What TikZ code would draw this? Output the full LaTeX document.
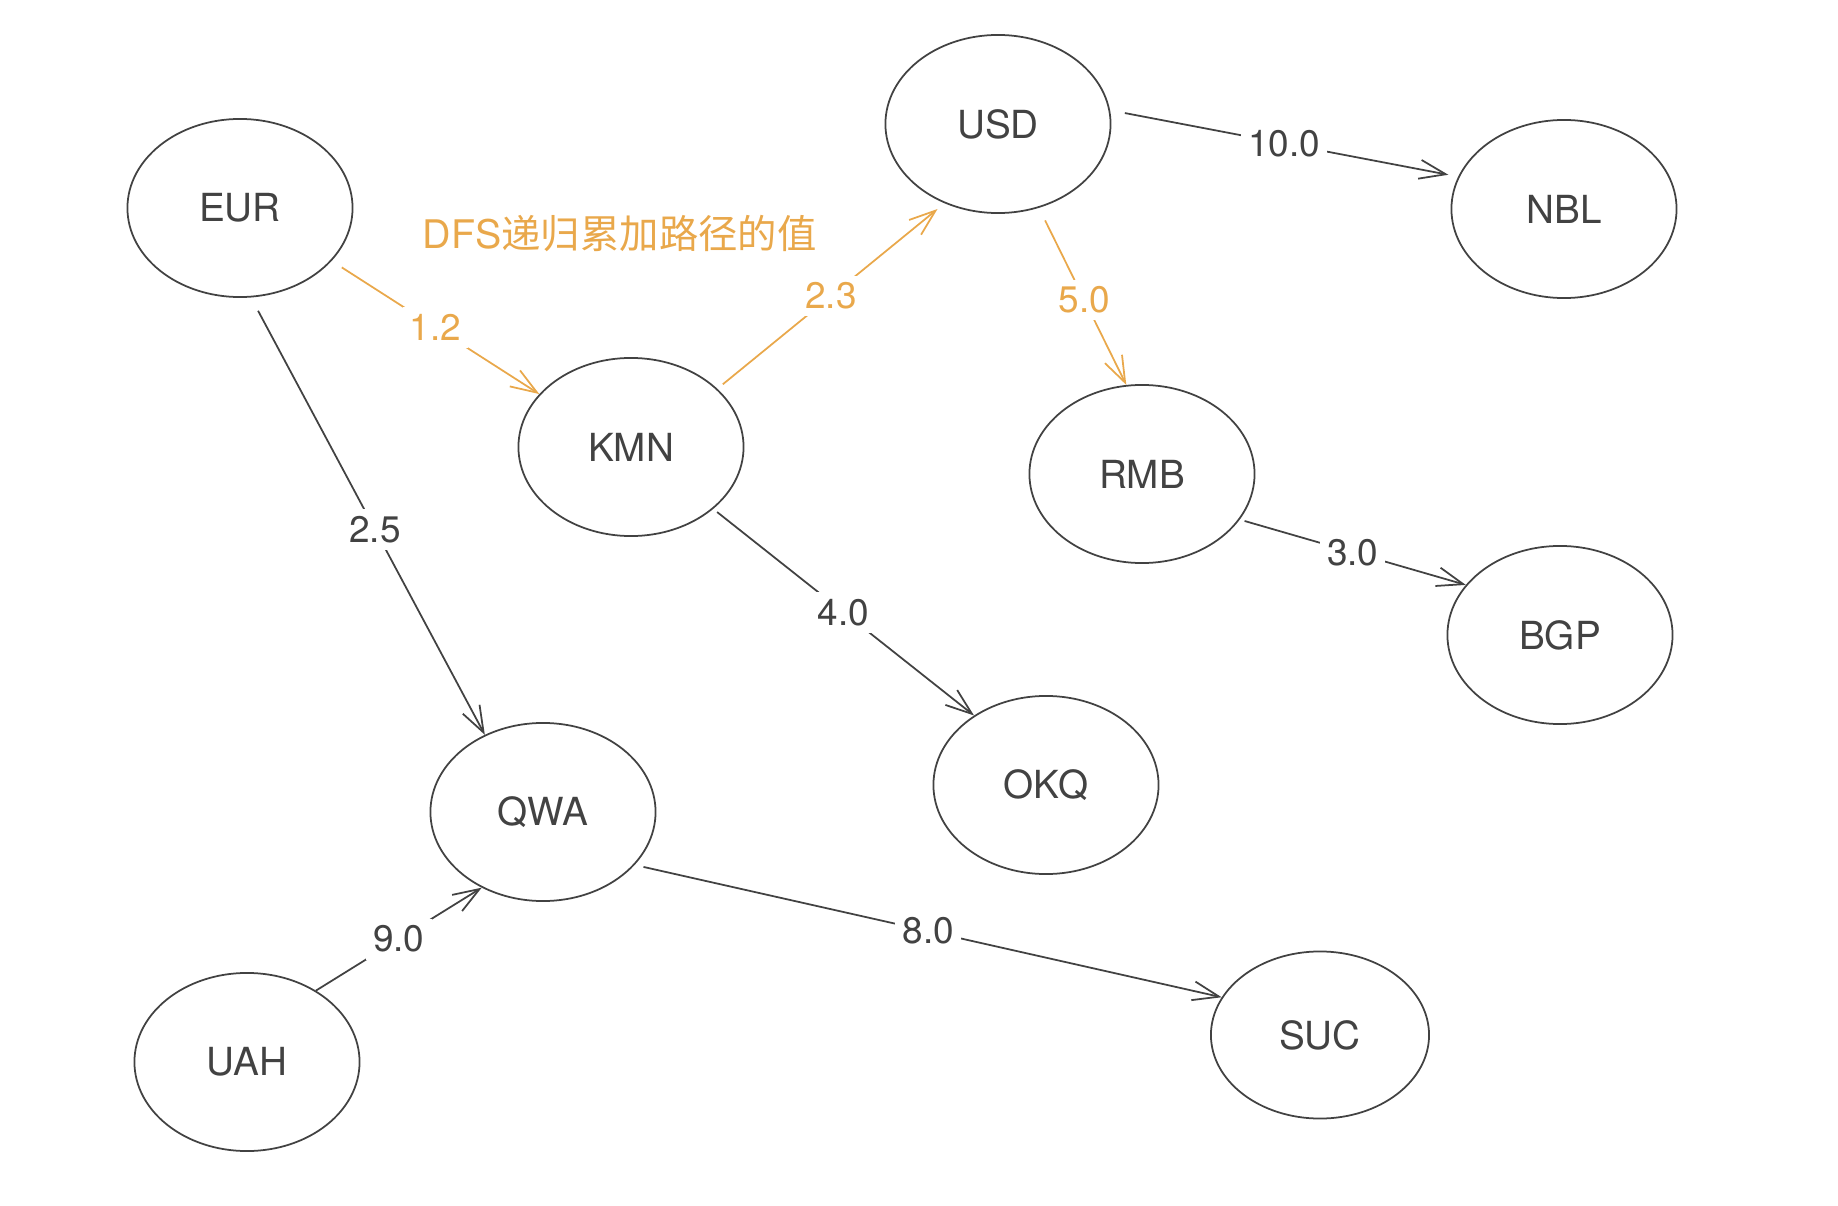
\documentclass[tikz,border=0pt]{standalone}
\usepackage{fontspec}
\setmainfont{TeX Gyre Heros}
\newfontfamily\cjkfont{Noto Sans CJK SC}
\usetikzlibrary{shapes.geometric,arrows.meta}
\definecolor{inkgray}{HTML}{424242}
\definecolor{dfsorange}{HTML}{E9A84B}
\tikzset{
currency/.style={
	  draw=inkgray, ellipse, line width=0.5pt, inner sep=0pt,
	    minimum width=2.25cm, minimum height=1.78cm,
	    text=inkgray, font=\fontsize{11}{13}\selectfont},
link/.style={draw=inkgray, line width=0.5pt,
	-{Straight Barb[length=7.5pt,width=5.4pt]}},
dfslink/.style={link, draw=dfsorange},
wlabel/.style={fill=white, inner sep=2pt, text=inkgray,
	font=\fontsize{10.5}{12}\selectfont},
dfslabel/.style={wlabel, text=dfsorange}
}

\begin{document}
\begin{tikzpicture}[x=0.01cm, y=-0.01cm]
	\useasboundingbox (0,0) rectangle (1838,1206);
	% currencies
	\node[currency] (EUR) at (240,208) {EUR};
	\node[currency] (USD) at (998,124) {USD};
	\node[currency] (NBL) at (1564,209) {NBL};
	\node[currency] (KMN) at (631,447) {KMN};
	\node[currency] (RMB) at (1142,474) {RMB};
	\node[currency] (BGP) at (1560,635) {BGP};
	\node[currency] (OKQ) at (1046,785) {OKQ};
	\node[currency] (QWA) at (543,812) {QWA};
	\node[currency] (UAH) at (247,1062) {UAH};
	\node[currency, minimum width=2.18cm, minimum height=1.67cm] (SUC) at (1320,1035) {SUC};
	\node[text=dfsorange, font=\fontsize{11.2}{13}\selectfont, inner sep=0pt, anchor=west]
		(note) at (422,234) {DFS{\cjkfont 递归累加路径的值}};

	% dfs path
	\draw[dfslink, shorten <=0.12cm] (EUR.-30) -- node[dfslabel] {1.2} (KMN.150);
	\draw[dfslink, shorten <=0.07cm, shorten >=0.09cm] (KMN.34) -- node[dfslabel] {2.3} (USD.236);
	\draw[dfslink, shorten <=0.14cm] (USD.-64) -- node[dfslabel, pos=0.52] {5.0} (RMB.100);
	% other edges
	\draw[link, shorten <=0.15cm, shorten >=0.1cm] (USD.7) -- node[wlabel] {10.0} (NBL.163);
	\draw[link, shorten <=0.15cm] (EUR.-83) -- node[wlabel, pos=0.53] {2.5} (QWA.127);
	\draw[link, shorten <=0.05cm] (KMN.-37) -- node[wlabel] {4.0} (OKQ.136);
	\draw[link, shorten <=0.05cm] (RMB.-25) -- node[wlabel] {3.0} (BGP.152);
	\draw[link, shorten <=0.09cm] (QWA.-30) -- node[wlabel] {8.0} (SUC.159);
	\draw[link] (UAH.46) -- node[wlabel] {9.0} (QWA.231);
\end{tikzpicture}
\end{document}
